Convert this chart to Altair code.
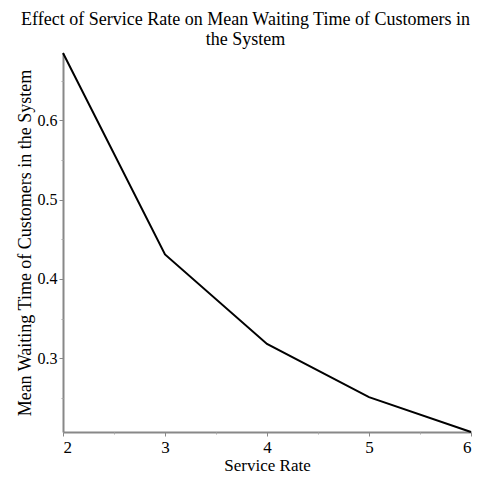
import altair as alt
import pandas as pd

service_rate = [2, 3, 4, 5, 6]
mean_wait = [0.685, 0.431, 0.318, 0.251, 0.207]

x_major = [2, 3, 4, 5, 6]
x_minor = [2.5, 3.5, 4.5, 5.5]
y_major = [0.3, 0.4, 0.5, 0.6]
y_minor = [0.25, 0.35, 0.45, 0.55, 0.65]

df = pd.DataFrame({"rate": service_rate, "wait": mean_wait})

FONT = "Liberation Serif"
xs = alt.Scale(domain=[2, 6], nice=False, zero=False)
ys = alt.Scale(domain=[min(mean_wait), max(mean_wait)], nice=False, zero=False)

line = alt.Chart(df).mark_line(color="black", strokeWidth=2, clip=False).encode(
    x=alt.X("rate:Q", scale=xs, axis=alt.Axis(
        orient="bottom", values=x_major, title="Service Rate", format="d",
        domainColor="#888888", domainWidth=2, tickColor="#888888", tickSize=4,
        labelFont=FONT, labelFontSize=17, labelColor="black", labelPadding=3,
        titleFont=FONT, titleFontSize=17, titleFontWeight="normal", titleColor="black",
        titlePadding=2, grid=False)),
    y=alt.Y("wait:Q", scale=ys, axis=alt.Axis(
        orient="left", values=y_major, title="Mean Waiting Time of Customers in the System", format=".1f",
        domainColor="#888888", domainWidth=2, tickColor="#888888", tickSize=4,
        labelFont=FONT, labelFontSize=16, labelColor="black", labelPadding=2,
        titleFont=FONT, titleFontSize=18, titleFontWeight="normal", titleColor="black",
        titlePadding=3, grid=False)),
)

minor = alt.Chart(df).mark_point(opacity=0).encode(
    x=alt.X("rate:Q", scale=xs, axis=alt.Axis(
        orient="bottom", values=x_minor, labels=False, title=None, domain=False,
        tickColor="#aaaaaa", tickSize=2, grid=False)),
    y=alt.Y("wait:Q", scale=ys, axis=alt.Axis(
        orient="left", values=y_minor, labels=False, title=None, domain=False,
        tickColor="#aaaaaa", tickSize=2, grid=False)),
)

chart = alt.layer(line, minor).resolve_axis(x="independent", y="independent").properties(
    width=408, height=379,
    title=alt.TitleParams(
        ["Effect of Service Rate on Mean Waiting Time of Customers in", "the System"],
        font=FONT, fontSize=18, fontWeight="normal", color="black",
        anchor="middle", frame="bounds", offset=0, lineHeight=20, limit=1000),
    autosize=alt.AutoSizeParams(type="none"),
    padding={"left": 55, "top": 45, "right": 4, "bottom": 45},
).configure_view(stroke=None)

chart.save("out.html", embed_options={"renderer": "svg", "actions": False})
